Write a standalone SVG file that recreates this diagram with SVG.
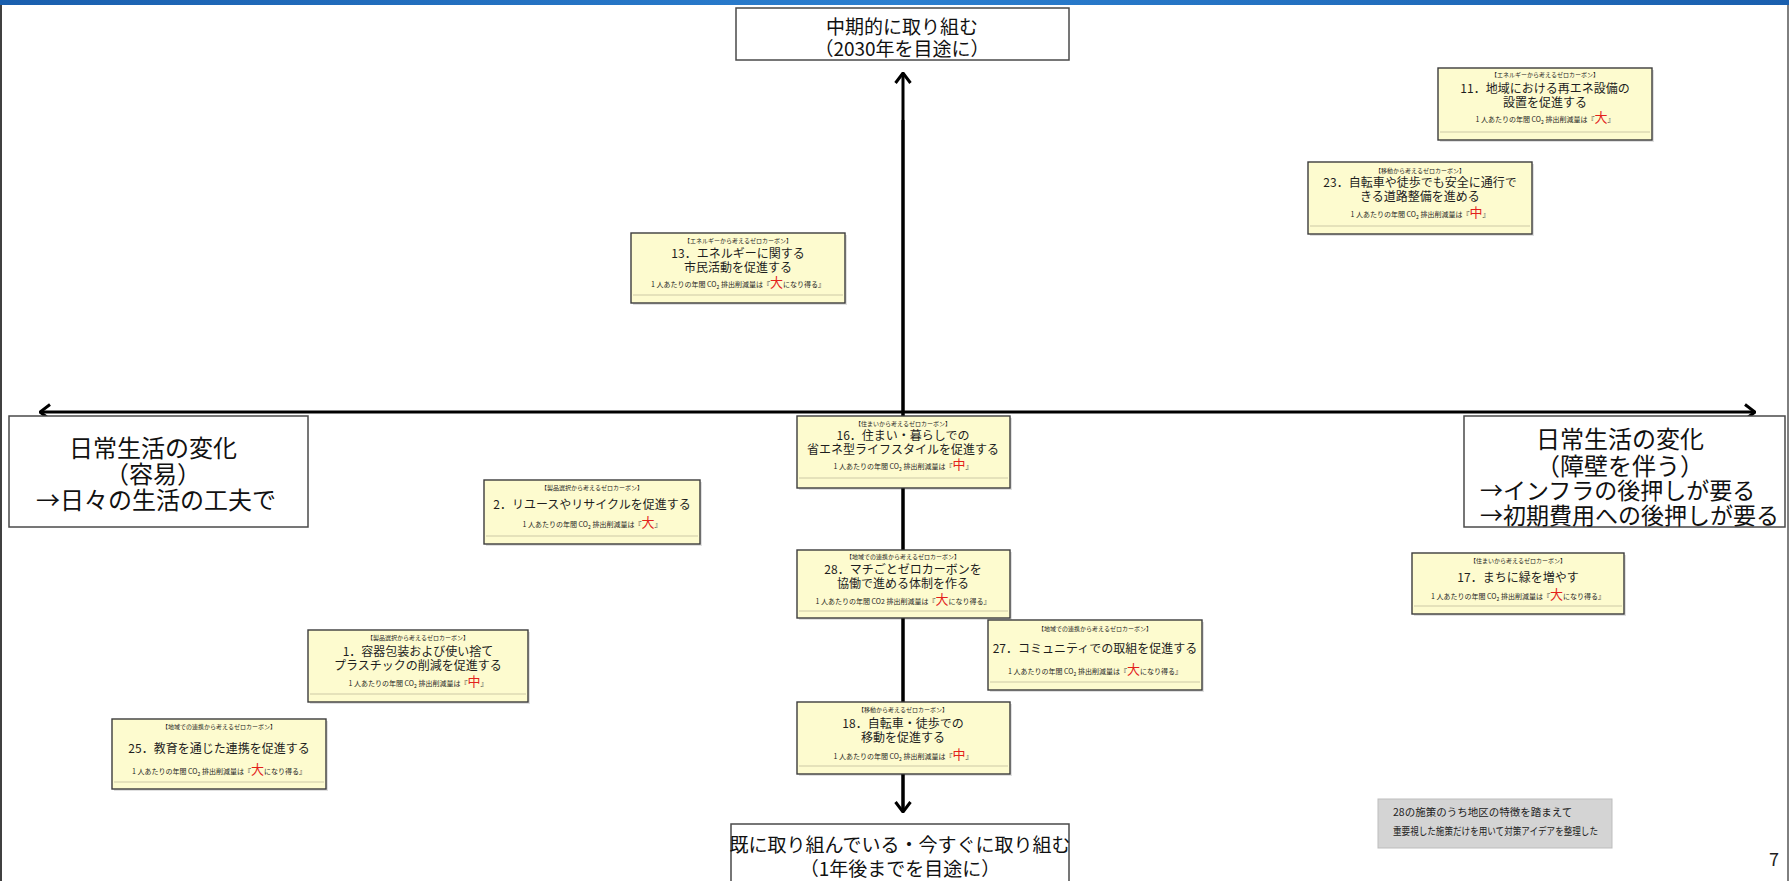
<svg xmlns="http://www.w3.org/2000/svg" width="1789" height="881" viewBox="0 0 1789 881">
  <style>
    text { font-family: "Noto Sans CJK JP", "Noto Sans", sans-serif; fill: #1e1e1e; text-anchor: middle; }
    .card { fill: #fdfbcf; stroke: #3c3c3c; stroke-width: 1.4; }
    .shade { fill: #000; opacity: 0.12; }
    .sep { stroke: #cdc9a6; stroke-width: 1; }
    .hd { font-size: 6px; }
    .tt { font-size: 12px; }
    .co { font-size: 7px; }
    .big { fill: #e3211b; font-size: 13px; }
    .frame { fill: #fff; stroke: #4a4a4a; stroke-width: 1.5; }
    .ax { stroke: #000; stroke-width: 3; fill: none; }
    .lbl { font-size: 19px; fill: #111; }
    .side { font-size: 24px; fill: #111; }
    .sidel { font-size: 23px; fill: #111; text-anchor: start; }
    .note { font-size: 10.5px; fill: #222; text-anchor: start; }
  </style>
  <defs>
    <linearGradient id="band" x1="0" y1="0" x2="1" y2="0">
      <stop offset="0" stop-color="#1a5fae"/>
      <stop offset="0.5" stop-color="#2b7fd0"/>
      <stop offset="1" stop-color="#1a5fae"/>
    </linearGradient>
    <marker id="chev" viewBox="0 0 12 18" refX="11" refY="9" markerWidth="12" markerHeight="18" markerUnits="userSpaceOnUse" orient="auto-start-reverse">
      <path d="M1,1.5 L11,9 L1,16.5" fill="none" stroke="#000" stroke-width="3"/>
    </marker>
  </defs>

  <!-- page background, header band and side rules -->
  <rect x="0" y="0" width="1789" height="881" fill="#fff"/>
  <rect x="0" y="0" width="1789" height="5" fill="url(#band)"/>
  <line x1="1" y1="5" x2="1" y2="881" stroke="#000" stroke-width="1.5"/>
  <line x1="1788" y1="5" x2="1788" y2="881" stroke="#000" stroke-width="1"/>

  <!-- axes -->
  <g id="connectors">
    <line class="ax" x1="903" y1="812" x2="903" y2="73" marker-end="url(#chev)"/>
    <line class="ax" x1="903" y1="120" x2="903" y2="812" marker-end="url(#chev)"/>
    <line class="ax" x1="40" y1="412" x2="1755" y2="412" marker-start="url(#chev)" marker-end="url(#chev)"/>
  </g>

  <!-- axis captions -->
  <g id="axis-top">
    <rect class="frame" x="736" y="8" width="333" height="52"/>
    <text class="lbl" x="902" y="34">中期的に取り組む</text>
    <text class="lbl" x="902" y="56">（2030年を目途に）</text>
  </g>
  <g id="axis-bottom">
    <rect class="frame" x="731" y="824" width="338" height="60"/>
    <text class="lbl" x="900" y="852">既に取り組んでいる・今すぐに取り組む</text>
    <text class="lbl" x="900" y="876">（1年後までを目途に）</text>
  </g>
  <g id="axis-left">
    <rect class="frame" x="9" y="416" width="299" height="111"/>
    <text class="side" x="153" y="457">日常生活の変化</text>
    <text class="side" x="153" y="483">（容易）</text>
    <text class="side" x="156" y="509">→日々の生活の工夫で</text>
  </g>
  <g id="axis-right">
    <rect class="frame" x="1464" y="416" width="321" height="111"/>
    <text class="side" x="1620" y="448">日常生活の変化</text>
    <text class="side" x="1620" y="475">（障壁を伴う）</text>
    <text class="sidel" x="1480" y="499">→インフラの後押しが要る</text>
    <text class="sidel" x="1480" y="524">→初期費用への後押しが要る</text>
  </g>

  <!-- measure cards -->
  <g id="m11">
    <rect class="shade" x="1440" y="70" width="214" height="72"/>
    <rect class="card" x="1438" y="68" width="214" height="72"/>
    <line class="sep" x1="1440" y1="132" x2="1650" y2="132"/>
    <text class="hd" x="1545" y="77">【エネルギーから考えるゼロカーボン】</text>
    <text class="tt" x="1545" y="93">11．地域における再エネ設備の</text>
    <text class="tt" x="1545" y="107">設置を促進する</text>
    <text class="co" x="1545" y="122">1 人あたりの年間 CO<tspan font-size="5" dy="1.5">2</tspan><tspan dy="-1.5"> 排出削減量は『</tspan><tspan class="big">大</tspan>』</text>
  </g>

  <g id="m23">
    <rect class="shade" x="1310" y="164" width="224" height="72"/>
    <rect class="card" x="1308" y="162" width="224" height="72"/>
    <line class="sep" x1="1310" y1="226" x2="1530" y2="226"/>
    <text class="hd" x="1420" y="173">【移動から考えるゼロカーボン】</text>
    <text class="tt" x="1420" y="187">23．自転車や徒歩でも安全に通行で</text>
    <text class="tt" x="1420" y="201">きる道路整備を進める</text>
    <text class="co" x="1420" y="217">1 人あたりの年間 CO<tspan font-size="5" dy="1.5">2</tspan><tspan dy="-1.5"> 排出削減量は『</tspan><tspan class="big">中</tspan>』</text>
  </g>

  <g id="m13">
    <rect class="shade" x="633" y="235" width="214" height="70"/>
    <rect class="card" x="631" y="233" width="214" height="70"/>
    <line class="sep" x1="633" y1="295" x2="843" y2="295"/>
    <text class="hd" x="738" y="243">【エネルギーから考えるゼロカーボン】</text>
    <text class="tt" x="738" y="258">13．エネルギーに関する</text>
    <text class="tt" x="738" y="272">市民活動を促進する</text>
    <text class="co" x="738" y="287">1 人あたりの年間 CO<tspan font-size="5" dy="1.5">2</tspan><tspan dy="-1.5"> 排出削減量は『</tspan><tspan class="big">大</tspan>になり得る』</text>
  </g>

  <g id="m16">
    <rect class="shade" x="799" y="418" width="213" height="72"/>
    <rect class="card" x="797" y="416" width="213" height="72"/>
    <line class="sep" x1="799" y1="478" x2="1008" y2="478"/>
    <text class="hd" x="903" y="426">【住まいから考えるゼロカーボン】</text>
    <text class="tt" x="903" y="440">16．住まい・暮らしでの</text>
    <text class="tt" x="903" y="454">省エネ型ライフスタイルを促進する</text>
    <text class="co" x="903" y="469">1 人あたりの年間 CO<tspan font-size="5" dy="1.5">2</tspan><tspan dy="-1.5"> 排出削減量は『</tspan><tspan class="big">中</tspan>』</text>
  </g>

  <g id="m2">
    <rect class="shade" x="486" y="482" width="216" height="64"/>
    <rect class="card" x="484" y="480" width="216" height="64"/>
    <line class="sep" x1="486" y1="536" x2="698" y2="536"/>
    <text class="hd" x="592" y="490">【製品選択から考えるゼロカーボン】</text>
    <text class="tt" x="592" y="509">2．リユースやリサイクルを促進する</text>
    <text class="co" x="592" y="527">1 人あたりの年間 CO<tspan font-size="5" dy="1.5">2</tspan><tspan dy="-1.5"> 排出削減量は『</tspan><tspan class="big">大</tspan>』</text>
  </g>

  <g id="m28">
    <rect class="shade" x="799" y="552" width="213" height="68"/>
    <rect class="card" x="797" y="550" width="213" height="68"/>
    <line class="sep" x1="799" y1="611" x2="1008" y2="611"/>
    <text class="hd" x="903" y="559">【地域での連携から考えるゼロカーボン】</text>
    <text class="tt" x="903" y="574">28．マチごとゼロカーボンを</text>
    <text class="tt" x="903" y="588">協働で進める体制を作る</text>
    <text class="co" x="903" y="604">1 人あたりの年間 CO2 排出削減量は『<tspan class="big">大</tspan>になり得る』</text>
  </g>

  <g id="m17">
    <rect class="shade" x="1414" y="555" width="212" height="61"/>
    <rect class="card" x="1412" y="553" width="212" height="61"/>
    <line class="sep" x1="1414" y1="606" x2="1622" y2="606"/>
    <text class="hd" x="1518" y="563">【住まいから考えるゼロカーボン】</text>
    <text class="tt" x="1518" y="582">17．まちに緑を増やす</text>
    <text class="co" x="1518" y="599">1 人あたりの年間 CO<tspan font-size="5" dy="1.5">2</tspan><tspan dy="-1.5"> 排出削減量は『</tspan><tspan class="big">大</tspan>になり得る』</text>
  </g>

  <g id="m27">
    <rect class="shade" x="990" y="622" width="214" height="70"/>
    <rect class="card" x="988" y="620" width="214" height="70"/>
    <line class="sep" x1="990" y1="682" x2="1200" y2="682"/>
    <text class="hd" x="1095" y="631">【地域での連携から考えるゼロカーボン】</text>
    <text class="tt" x="1095" y="653">27．コミュニティでの取組を促進する</text>
    <text class="co" x="1095" y="674">1 人あたりの年間 CO<tspan font-size="5" dy="1.5">2</tspan><tspan dy="-1.5"> 排出削減量は『</tspan><tspan class="big">大</tspan>になり得る』</text>
  </g>

  <g id="m1">
    <rect class="shade" x="310" y="632" width="220" height="72"/>
    <rect class="card" x="308" y="630" width="220" height="72"/>
    <line class="sep" x1="310" y1="694" x2="526" y2="694"/>
    <text class="hd" x="418" y="640">【製品選択から考えるゼロカーボン】</text>
    <text class="tt" x="418" y="656">1．容器包装および使い捨て</text>
    <text class="tt" x="418" y="670">プラスチックの削減を促進する</text>
    <text class="co" x="418" y="686">1 人あたりの年間 CO<tspan font-size="5" dy="1.5">2</tspan><tspan dy="-1.5"> 排出削減量は『</tspan><tspan class="big">中</tspan>』</text>
  </g>

  <g id="m25">
    <rect class="shade" x="114" y="721" width="214" height="70"/>
    <rect class="card" x="112" y="719" width="214" height="70"/>
    <line class="sep" x1="114" y1="782" x2="324" y2="782"/>
    <text class="hd" x="219" y="729">【地域での連携から考えるゼロカーボン】</text>
    <text class="tt" x="219" y="753">25．教育を通じた連携を促進する</text>
    <text class="co" x="219" y="774">1 人あたりの年間 CO<tspan font-size="5" dy="1.5">2</tspan><tspan dy="-1.5"> 排出削減量は『</tspan><tspan class="big">大</tspan>になり得る』</text>
  </g>

  <g id="m18">
    <rect class="shade" x="799" y="704" width="213" height="72"/>
    <rect class="card" x="797" y="702" width="213" height="72"/>
    <line class="sep" x1="799" y1="766" x2="1008" y2="766"/>
    <text class="hd" x="903" y="712">【移動から考えるゼロカーボン】</text>
    <text class="tt" x="903" y="728">18．自転車・徒歩での</text>
    <text class="tt" x="903" y="742">移動を促進する</text>
    <text class="co" x="903" y="759">1 人あたりの年間 CO<tspan font-size="5" dy="1.5">2</tspan><tspan dy="-1.5"> 排出削減量は『</tspan><tspan class="big">中</tspan>』</text>
  </g>

  <!-- remark and page number -->
  <g id="remark">
    <rect x="1378" y="799" width="234" height="49" fill="#d4d4d4" stroke="#bdbdbd" stroke-width="1"/>
    <text class="note" x="1393" y="816">28の施策のうち地区の特徴を踏まえて</text>
    <text class="note" x="1393" y="835" textLength="205" lengthAdjust="spacingAndGlyphs">重要視した施策だけを用いて対策アイデアを整理した</text>
  </g>
  <text x="1774" y="866" font-family="Liberation Sans, sans-serif" font-size="18" fill="#222">7</text>
</svg>
